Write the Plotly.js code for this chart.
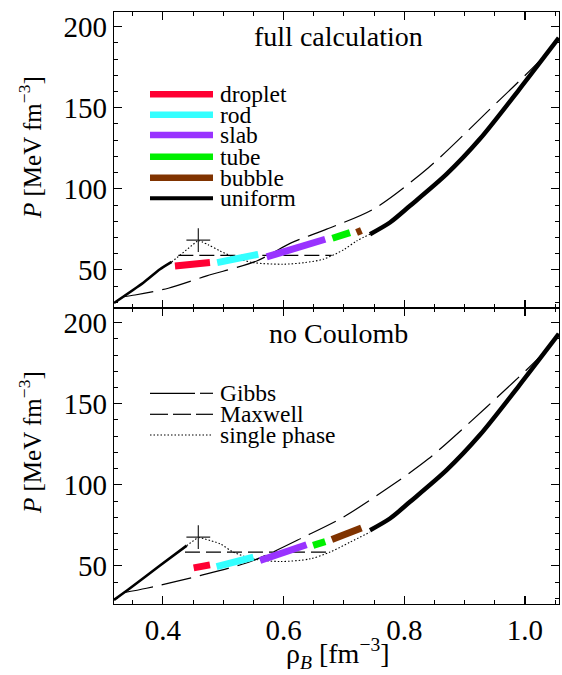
<!DOCTYPE html>
<html><head><meta charset="utf-8">
<script src="https://cdn.plot.ly/plotly-3.0.1.min.js"></script>
<style>html,body{margin:0;padding:0;background:#fff}</style>
</head><body><div id="plot" style="width:562px;height:675px"></div>
<script>
// ---------- data ----------
// full calculation (top panel)
const uniformLeftFullX = [0.319, 0.3676, 0.3952, 0.4146];
const uniformLeftFullY = [29.6, 42.1, 50.4, 54.9];
const singleFullX = [0.4146, 0.4587, 0.475, 0.4946, 0.52, 0.5498, 0.5995, 0.635, 0.6658, 0.70, 0.7212, 0.7432];
const singleFullY = [54.9, 68.3, 65.5, 61.7, 57.5, 54.5, 53.5, 54.5, 56.6, 62.5, 67.9, 72.0];
const maxwellFullX = [0.4256, 0.6797];
const maxwellFullY = [59.0, 59.0];
const gibbsFullX = [0.335, 0.3538, 0.409, 0.4726, 0.5555, 0.6134, 0.6714, 0.7487, 0.84, 0.9365, 1.03, 1.056];
const gibbsFullY = [33.5, 34.5, 38.7, 46.3, 55.5, 66.8, 75.1, 87.4, 113, 147.1, 181, 192];
const dropletFullX = [0.420, 0.449, 0.478];
const dropletFullY = [52.4, 53.5, 54.5];
const rodFullX = [0.490, 0.524, 0.558];
const rodFullY = [54.5, 57.0, 59.6];
const slabFullX = [0.572, 0.620, 0.669];
const slabFullY = [58.0, 63.0, 68.9];
const tubeFullX = [0.681, 0.710];
const tubeFullY = [69.5, 73.0];
const bubbleFullX = [0.721, 0.729];
const bubbleFullY = [73.0, 74.3];
const crossFullX = [0.4587];
const crossFullY = [68.3];

// no Coulomb (bottom panel)
const uniformLeftNoCX = [0.319, 0.3455, 0.3952, 0.4395];
const uniformLeftNoCY = [29.0, 36.2, 50.2, 62.5];
const singleNoCX = [0.4395, 0.4587, 0.4946, 0.5167, 0.5498, 0.594, 0.6437, 0.6769, 0.71, 0.7432];
const singleNoCY = [62.5, 67.7, 63.6, 58.5, 54.3, 52.7, 54.3, 58.5, 64.6, 70.8];
const maxwellNoCX = [0.4366, 0.6797];
const maxwellNoCY = [58.5, 58.5];
const gibbsNoCX = [0.335, 0.373, 0.4615, 0.5498, 0.6383, 0.699, 0.771, 0.84, 0.9365, 1.03, 1.056];
const gibbsNoCY = [33.5, 36.2, 44.0, 53.3, 68.7, 80.1, 97.5, 116, 148, 181, 193];
const dropletNoCX = [0.451, 0.478];
const dropletNoCY = [48.8, 50.6];
const rodNoCX = [0.489, 0.520, 0.550];
const rodNoCY = [49.6, 52.4, 55.4];
const slabNoCX = [0.561, 0.600, 0.638];
const slabNoCY = [53.3, 58.0, 63.0];
const tubeNoCX = [0.649, 0.669];
const tubeNoCY = [62.6, 65.0];
const bubbleNoCX = [0.680, 0.705, 0.729];
const bubbleNoCY = [66.2, 69.7, 73.3];
const crossNoCX = [0.4587];
const crossNoCY = [67.7];

// uniform high-density branch (same in both panels)
const uniformRightX = [0.7432, 0.7763, 0.8095, 0.87, 0.9255, 0.99, 1.056];
const uniformRightY = [72.0, 79.2, 89.5, 109, 130.8, 161, 193];

const phaseNames = ['droplet', 'rod', 'slab', 'tube', 'bubble', 'uniform'];
const phaseColors = ['#ff0033', '#33ffff', '#9933ff', '#00f000', '#803300', '#000000'];
const lineNames = ['Gibbs', 'Maxwell', 'single phase'];
const panelTitles = ['full calculation', 'no Coulomb'];

// ---------- layout helpers ----------
const W = 562, H = 675, ML = 114, MR = 3, MT = 12, MB = 71;
const PW = W - ML - MR, PH = H - MT - MB;
const px = x => (x - ML) / PW;
const py = y => (H - MB - y) / PH;
const FONT = '"Liberation Serif", "DejaVu Serif", serif';

const traces = [];
function addPanel(xa, ya, d) {
  const base = {xaxis: xa, yaxis: ya, mode: 'lines', showlegend: false, hoverinfo: 'skip'};
  traces.push(Object.assign({}, base, {x: d.gx, y: d.gy, line: {color: '#000', width: 1.2, dash: '30px,9px', shape: 'spline', smoothing: 0.8}}));
  traces.push(Object.assign({}, base, {x: d.mx, y: d.my, line: {color: '#000', width: 1.2, dash: '15px,6px'}}));
  // single-phase curve: rising spinodal part up to the cusp, then the smooth loop
  traces.push(Object.assign({}, base, {x: d.sx.slice(0, 2), y: d.sy.slice(0, 2), line: {color: '#000', width: 1.1, dash: '1.5px,2px'}}));
  traces.push(Object.assign({}, base, {x: d.sx.slice(1), y: d.sy.slice(1), line: {color: '#000', width: 1.1, dash: '1.5px,2px', shape: 'spline', smoothing: 0.8}}));
  traces.push(Object.assign({}, base, {x: d.ulx, y: d.uly, line: {color: '#000', width: 2.6, shape: 'spline', smoothing: 0.6}}));
  traces.push(Object.assign({}, base, {x: uniformRightX, y: uniformRightY, line: {color: '#000', width: 4.5, shape: 'spline', smoothing: 0.8}}));
  const segs = [[d.dx, d.dy], [d.rx, d.ry], [d.slx, d.sly], [d.tx, d.ty], [d.bx, d.by]];
  segs.forEach((s, i) => traces.push(Object.assign({}, base, {x: s[0], y: s[1], line: {color: phaseColors[i], width: 7}})));
  traces.push({xaxis: xa, yaxis: ya, mode: 'markers', x: d.cx, y: d.cy, showlegend: false, hoverinfo: 'skip',
    marker: {symbol: 'cross-thin', size: 17, line: {color: '#222', width: 1.2}}});
}
addPanel('x2', 'y', {gx: gibbsFullX, gy: gibbsFullY, mx: maxwellFullX, my: maxwellFullY, sx: singleFullX, sy: singleFullY,
  ulx: uniformLeftFullX, uly: uniformLeftFullY, dx: dropletFullX, dy: dropletFullY, rx: rodFullX, ry: rodFullY,
  slx: slabFullX, sly: slabFullY, tx: tubeFullX, ty: tubeFullY, bx: bubbleFullX, by: bubbleFullY, cx: crossFullX, cy: crossFullY});
addPanel('x', 'y2', {gx: gibbsNoCX, gy: gibbsNoCY, mx: maxwellNoCX, my: maxwellNoCY, sx: singleNoCX, sy: singleNoCY,
  ulx: uniformLeftNoCX, uly: uniformLeftNoCY, dx: dropletNoCX, dy: dropletNoCY, rx: rodNoCX, ry: rodNoCY,
  slx: slabNoCX, sly: slabNoCY, tx: tubeNoCX, ty: tubeNoCY, bx: bubbleNoCX, by: bubbleNoCY, cx: crossNoCX, cy: crossNoCY});

const axisCommon = {showline: true, linecolor: '#000', linewidth: 1.2, mirror: 'ticks', ticks: 'inside',
  ticklen: 8, tickwidth: 1.2, tickcolor: '#000', showgrid: false, zeroline: false,
  tickfont: {family: FONT, size: 29, color: '#000'}};
const xr = [0.319, 0.319 + PW / 603.5];
const yr = [26.5, 209];

const shapes = [], annotations = [];
const LEGFONT = {family: FONT, size: 23.5, color: '#000'};
// top legend (structure types)
const topRows = [94.3, 114.7, 135, 156.7, 177.7, 198.3];
phaseNames.forEach((n, i) => {
  shapes.push({type: 'line', xref: 'paper', yref: 'paper', x0: px(150), x1: px(213), y0: py(topRows[i]), y1: py(topRows[i]),
    line: {color: phaseColors[i], width: i === 5 ? 4 : 6.5}});
  annotations.push({xref: 'paper', yref: 'paper', x: px(218), y: py(topRows[i]), xanchor: 'left', yanchor: 'middle',
    text: n, showarrow: false, font: LEGFONT});
});
// bottom legend (line styles)
const botRows = [393.3, 414.3, 435];
const seg = (a, b, y, dash) => shapes.push({type: 'line', xref: 'paper', yref: 'paper', x0: px(a), x1: px(b), y0: py(y), y1: py(y),
  line: {color: '#000', width: 1.2, dash: dash || 'solid'}});
seg(150, 195, botRows[0]); seg(200, 213, botRows[0]);
seg(150, 168, botRows[1]); seg(173, 191, botRows[1]); seg(196, 213, botRows[1]);
seg(150, 213, botRows[2], '1.5px,2px');
lineNames.forEach((n, i) => annotations.push({xref: 'paper', yref: 'paper', x: px(218), y: py(botRows[i]), xanchor: 'left',
  yanchor: 'middle', text: n, showarrow: false, font: LEGFONT}));
// panel titles
[[37, 0], [333, 1]].forEach(([yy, i]) => annotations.push({xref: 'paper', yref: 'paper', x: px(338), y: py(yy),
  xanchor: 'center', yanchor: 'middle', text: panelTitles[i], showarrow: false, font: {family: FONT, size: 28, color: '#000'}}));
// axis titles
[148, 443].forEach(yy => annotations.push({xref: 'paper', yref: 'paper', x: px(30), y: py(yy), xanchor: 'center', yanchor: 'middle',
  textangle: -90, text: '<i>P</i> [MeV fm<sup>−3</sup>]', showarrow: false, font: {family: FONT, size: 25, color: '#000'}}));
annotations.push({xref: 'paper', yref: 'paper', x: px(338), y: py(653), xanchor: 'center', yanchor: 'middle',
  text: 'ρ<sub><i>B</i></sub> [fm<sup>−3</sup>]', showarrow: false, font: {family: FONT, size: 28, color: '#000'}});

const layout = {
  width: W, height: H, margin: {l: ML, r: MR, t: MT, b: MB}, paper_bgcolor: '#fff', plot_bgcolor: '#fff',
  showlegend: false,
  xaxis: Object.assign({}, axisCommon, {anchor: 'y2', range: xr, dtick: 0.2, tick0: 0, tickformat: '.1f',
    minor: {dtick: 0.05, tick0: 0, ticks: 'inside', ticklen: 4, tickwidth: 1, tickcolor: '#000'}}),
  xaxis2: Object.assign({}, axisCommon, {anchor: 'y', matches: 'x', range: xr, dtick: 0.2, tick0: 0, showticklabels: false,
    minor: {dtick: 0.05, tick0: 0, ticks: 'inside', ticklen: 4, tickwidth: 1, tickcolor: '#000'}}),
  yaxis: Object.assign({}, axisCommon, {domain: [0.5, 1], anchor: 'x2', range: yr, dtick: 50, tick0: 0,
    minor: {dtick: 10, tick0: 0, ticks: 'inside', ticklen: 4, tickwidth: 1, tickcolor: '#000'}}),
  yaxis2: Object.assign({}, axisCommon, {domain: [0, 0.5], anchor: 'x', range: yr, dtick: 50, tick0: 0,
    minor: {dtick: 10, tick0: 0, ticks: 'inside', ticklen: 4, tickwidth: 1, tickcolor: '#000'}}),
  shapes: shapes, annotations: annotations
};
Plotly.newPlot('plot', traces, layout, {staticPlot: true, displayModeBar: false});
</script></body></html>
